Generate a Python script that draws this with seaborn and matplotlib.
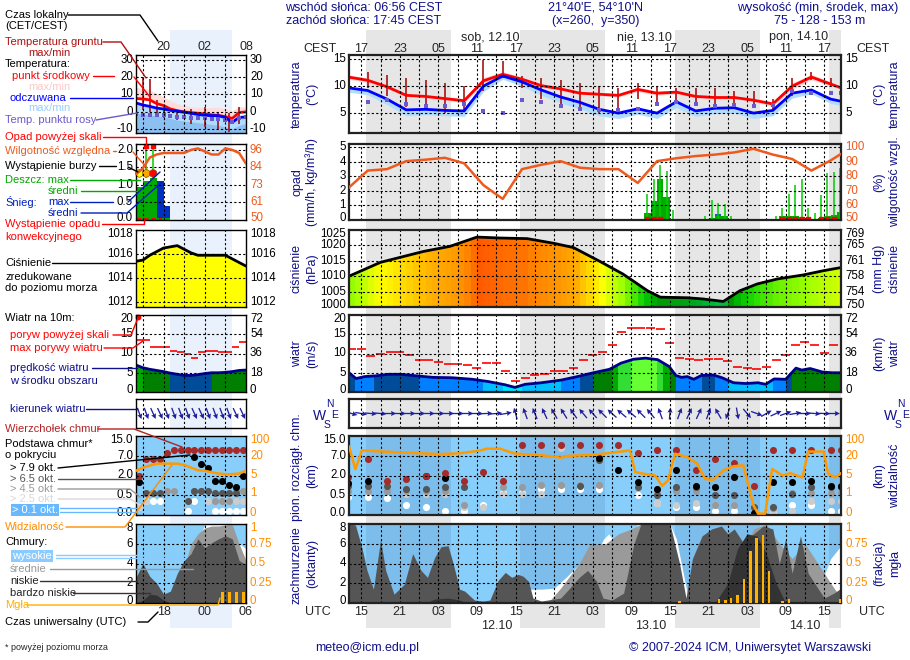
import numpy as np
import matplotlib
matplotlib.use('Agg')
import matplotlib.pyplot as plt
import seaborn as sns
from matplotlib.colors import LinearSegmentedColormap, ListedColormap, BoundaryNorm, Normalize
from matplotlib.lines import Line2D
from matplotlib.transforms import blended_transform_factory

sns.set_style('white')
plt.rcParams['font.family'] = ['Liberation Sans', 'DejaVu Sans']
plt.rcParams['font.size'] = 8.3
plt.rcParams['axes.unicode_minus'] = False

# ---------------- main forecast data (UTC hours from 11.10 00:00) ----------------
t3 = [13, 16, 19, 22, 25, 28, 31, 34, 37, 40, 43, 46, 49, 52, 55, 58, 61, 64, 67, 70,
      73, 76, 79, 82, 85, 88, 89.6]
temp_mid = [11.6, 11.0, 9.8, 8.2, 8.0, 7.6, 7.2, 10.9, 12.1, 11.2, 10.0, 9.4, 8.6, 8.4, 8.2,
            9.3, 8.6, 8.8, 8.0, 7.8, 7.8, 7.3, 6.6, 9.9, 11.6, 10.3, 9.6]
temp_band = [0.4, 0.4, 0.4, 0.3, 0.3, 0.3, 0.4, 0.6, 0.5, 0.4, 0.4, 0.3, 0.3, 0.3, 0.3, 0.4,
             0.4, 0.3, 0.3, 0.3, 0.3, 0.3, 0.4, 0.6, 0.5, 0.4, 0.3]
temp_feel = [9.6, 9.1, 7.5, 5.5, 5.6, 5.4, 5.3, 9.9, 11.8, 10.7, 9.2, 7.9, 6.9, 5.6, 4.9, 5.7,
             4.9, 7.0, 5.3, 5.8, 5.9, 4.9, 5.4, 8.6, 9.2, 7.5, 7.1]
feel_band = [0.8, 0.8, 1.0, 1.1, 1.0, 1.0, 1.0, 1.0, 0.6, 0.8, 1.0, 1.1, 1.2, 1.2, 1.0, 1.0,
             1.0, 1.1, 1.0, 1.0, 1.0, 1.0, 1.0, 0.9, 0.7, 0.8, 0.8]
dew_point = [6.2, 7.0, 7.4, 6.6, 6.3, 6.2, 6.5, 5.3, 5.0, 7.3, 7.0, 6.2, 5.6, 5.4, 5.5, 5.6,
             6.5, 7.0, 6.5, 6.3, 6.4, 6.2, 6.4, 9.0, 8.6, 8.6, 8.6]
ground_max = [13.2, 12.5, 12.0, 11.5, 11.0, 10.5, 10.0, 14.8, 14.5, 11.8, 11.5, 11.0, 10.5,
              10.0, 9.5, 10.5, 10.0, 9.5, 9.5, 9.5, 9.0, 9.0, 7.5, 11.5, 12.5, 11.5, 10.5]
ground_min = [9.5, 9.5, 8.0, 6.0, 5.5, 5.0, 5.5, 9.0, 11.5, 9.5, 7.5, 6.5, 6.0, 5.0, 5.0, 7.5,
              7.0, 7.0, 6.5, 6.5, 6.0, 6.0, 5.5, 8.0, 11.0, 10.0, 9.5]
humidity = [72, 84, 85, 90.5, 91.5, 92.8, 89, 74, 64.5, 85, 88, 90.5, 86, 85, 85, 75.5, 90.5,
            92.5, 94, 95, 96.5, 99, 95, 92, 84, 91, 95.5]

rain_t = [59, 60, 61, 62, 63, 68, 69, 70, 71, 72, 79, 80, 81, 82, 83, 84, 85, 86, 87, 88, 89]
rain_mean = [0.5, 1.3, 2.8, 1.6, 0.1, 0.05, 0.15, 0.3, 0.3, 0.05, 0.1, 0.25, 0.25, 0.25, 0.2,
             0.1, 0.05, 0.15, 0.3, 0.35, 0.55]
rain_max = [1.8, 2.8, 3.8, 3.4, 0.7, 0.3, 1.4, 1.2, 1.1, 0.3, 0.3, 0.8, 1.8, 2.4, 2.8, 0.8,
            0.5, 1.7, 3.2, 3.3, 3.6]
snow_t = [70]
snow_mean = [0.38]
conv_t = [59.5, 60.5, 61.5, 80.5, 81.5, 82.5, 83.5, 84.5, 86.5, 87.5, 88.5]

pres_t = [13.1, 18, 24.6, 28.8, 33, 36.6, 40.8, 44.9, 48, 52.2, 55.7, 59.5, 61.5, 65.7, 68.2,
          71.3, 73.9, 76.6, 79.7, 83.7, 86.9, 89.6]
pressure = [1010, 1014.5, 1018, 1019.7, 1022.7, 1022.4, 1022.2, 1020.7, 1019.3, 1014.7, 1010.7,
            1005.3, 1003.2, 1003, 1002.6, 1001.8, 1005.3, 1007.5, 1009.1, 1010.4, 1011.8, 1012.8]

wind_t = [13.1, 14.2, 15.5, 17.3, 19.2, 21.1, 23.6, 26.1, 29.2, 32.3, 34.8, 37.3, 38.9, 40.5,
          43.0, 46.1, 48.6, 51.1, 53.6, 55.4, 57.3, 59.2, 61.1, 62.9, 63.9, 64.8, 65.7, 66.7,
          67.9, 69.8, 71.1, 72.9, 74.8, 76.7, 77.9, 79.2, 81.0, 82.6, 83.5, 84.8, 86.7, 88.2, 89.6]
wind_speed = [5.0, 3.5, 4.0, 4.2, 4.6, 4.6, 4.2, 3.8, 3.7, 3.3, 2.7, 1.9, 1.2, 2.0, 2.4, 3.1,
              4.0, 5.0, 5.9, 7.5, 8.5, 8.8, 8.4, 6.6, 4.3, 3.8, 4.0, 3.3, 4.3, 4.4, 3.7, 2.4,
              2.2, 2.4, 2.0, 3.4, 3.3, 6.2, 5.7, 6.1, 5.2, 5.0, 5.0]
gust_t = np.arange(13.5, 89.6, 1.5)
gust = [11.2, 11.2, 9.4, 9.8, 10.3, 10.3, 9.6, 8.4, 8.4, 7.9, 7.3, 7.3, 7.0, 6.3, 7.5, 7.5,
        5.5, 2.8, 3.6, 4.4, 4.8, 5.5, 5.5, 6.2, 8.2, 9.7, 10.3, 12.1, 15.6, 16.6, 16.6, 16.7,
        16.3, 12.6, 8.9, 8.7, 8.2, 8.6, 8.6, 8.0, 6.6, 6.3, 6.1, 6.4, 8.2, 9.7, 12.1, 13.0,
        12.2, 10.1, 12.1]
wind_dir = [285, 280, 275, 275, 270, 270, 270, 270, 270, 270, 270, 270, 270, 270, 268, 265,
            260, 165, 160, 158, 155, 150, 148, 145, 140, 138, 135, 132, 130, 130, 135, 140,
            160, 185, 200, 205, 205, 200, 150, 20, 350, 320, 290, 240, 245, 250, 260, 270,
            275, 272, 270]

vis_t = [13.1, 14.1, 15.1, 18, 21, 24.2, 27.3, 30.4, 33.5, 34.5, 36.6, 38.7, 40.8, 42.8, 44.9,
         46, 47, 51, 56.8, 57.6, 58.9, 60.7, 61.8, 62.7, 63.8, 65.7, 67.2, 68.5, 69.7, 71.3,
         72.9, 74.4, 76, 76.7, 77.8, 78.9, 80.5, 81.7, 83.6, 84.5, 86.9, 87.6, 88.7, 89.6]
visibility = [58, 9.7, 41.6, 37.6, 33.6, 30.4, 26.4, 30.4, 41, 48.6, 48.6, 30, 24.8, 22.4, 19.4,
              18.5, 19.9, 23, 41.6, 7.6, 6.3, 5, 2.9, 4, 28, 19, 14, 4.3, 4.1, 8.9, 12, 12.8,
              0.48, 0.07, 0.07, 10, 5, 6.8, 4.6, 37, 37, 6.3, 4.6, 6.8]
nan = np.nan
cloud_top = [1.9, 6.3, 1.6, 1.7, 2.0, 2.6, 1.6, 2.9, 1.56, 11.2, 11.2, 11.2, 11.2, 11.2, 11.2,
             8.0, 9.4, 9.4, 3.4, 6.3, 5.2, 1.2, 9.4, 9.4, 9.4, 9.4, 9.4]
base_79 = [1.4, 1.6, nan, nan, 2.0, 1.8, nan, nan, nan, nan, nan, nan, nan, 6.5, 3.3, 1.5, 1.0,
           3.3, 1.2, 1.1, 1.9, 0.04, 1.5, 1.5, 1.6, 1.2, 1.2]
base_65 = [1.2, 1.2, 1.2, 0.95, 0.95, 1.1, 1.1, nan, nan, nan, nan, nan, 1.2, 6.0, nan, 1.1,
           0.5, 1.1, 1.1, 0.5, 0.5, 0.2, 0.2, 0.6, 1.1, 1.1, 1.1]
base_45 = [0.8, 0.8, 0.8, 0.8, 0.8, 0.8, 0.26, nan, 1.1, 1.1, 1.3, 1.3, 1.3, 1.3, nan, nan,
           0.8, 0.8, 0.8, 0.26, 0.26, 0.17, 0.17, 0.65, 0.65, 0.65, 0.65]
base_25 = [0.9, 1.1, 1.3, 0.6, 0.6, 0.6, 0.2, 0.2, 0.6, 0.6, 0.6, 10.0, 1.3, 6.5, nan, nan,
           0.3, 0.26, 0.3, 0.26, 0.26, 0.1, 0.1, 0.1, 0.35, 0.35, 0.35]
base_01 = [0.45, 0.45, 0.43, 0.26, 0.19, 0.1, 0.1, 0.26, 0.7, 0.7, 0.95, 0.95, 0.95, 0.95, nan,
           0.55, 0.3, 0.2, 0.2, 0.09, 0.09, 0.07, 0.07, 0.26, 0.26, 0.1, 0.1]

high_t = [13.1, 38.5, 39.4, 43, 45, 47, 49, 51.6, 52.7, 53.5, 54.5, 56, 58, 63, 64, 66, 85,
          86.5, 88, 89.6]
cloud_high = [0, 0, 1.4, 1.4, 1.5, 2.7, 4.0, 5.0, 6.5, 7, 6.0, 5.5, 8, 8, 6.5, 0, 0, 2, 4.5, 5.8]
mid_t = [13.1, 44, 46, 48.9, 50.5, 53, 55, 57, 58.5, 63, 64, 65.5, 70, 73, 76, 78, 80, 82, 84,
         86, 88, 89.6]
cloud_mid = [0, 0, 1.5, 4.0, 5.9, 6.0, 7.0, 7.5, 8, 8, 3, 0, 0, 3, 7.5, 8, 6.0, 4.5, 6.0, 4.0,
             2.0, 0.5]
low_t = [13.1, 14.1, 15.1, 15.9, 16.9, 18, 18.8, 20.1, 21.7, 23, 24.3, 25.3, 26.4, 27.4, 28.5,
         29.3, 30.3, 31.1, 32.6, 33.9, 35, 36.3, 37.4, 38.4, 39.4, 40.2, 41, 41.7, 43, 46, 47,
         48.9, 50.2, 51.6, 52.6, 54, 55.8, 57.4, 58.5, 63, 64.5, 65.5, 66.5, 68, 69.5, 71, 72,
         73, 74.5, 76, 77.5, 79, 80, 81, 82, 83.3, 84.5, 86, 87, 88.5, 89.6]
cloud_low = [8, 7.9, 5.6, 3.3, 1.4, 6.4, 3.3, 0.9, 1.9, 5.0, 3.3, 2.6, 4.6, 5.7, 5.8, 4.0, 1.4,
             1.2, 0.3, 0.2, 0.3, 2.3, 3.1, 2.6, 2.9, 2.7, 2.2, 0.5, 0.2, 0.5, 1.2, 2.6, 3.3, 2.2,
             0.5, 0.3, 1.0, 6.0, 8, 8, 4, 0.5, 4.5, 6.8, 7.5, 7.8, 7.0, 7.5, 6.0, 7.0, 7.8, 7.5,
             4.0, 6.5, 3.0, 6.8, 3.0, 1.5, 0.5, 1.0, 1.5]
vlow_t = [13.1, 25, 26.4, 28.5, 30.3, 31.5, 70, 72, 73.5, 75, 76.5, 78, 79.5, 81, 89.6]
cloud_vlow = [0, 0, 0.4, 0.5, 0.3, 0, 0, 2.0, 5.5, 7.0, 6.8, 5.0, 2.0, 0, 0]
fog_t = [64.5, 70.6, 71.6, 72.5, 73.5, 74.5, 75.5, 76.5, 77.5, 78.4, 80.5, 81.5, 89.5]
fog = [0.02, 0.05, 0.04, 0.06, 0.1, 0.3, 0.66, 0.82, 0.86, 0.4, 0.03, 0.05, 0.05]

# ---------------- legend example data (UTC hours, 14 -> 06) ----------------
s_t = [14, 15, 16, 17, 18, 19, 20, 21, 22, 23, 24, 25, 26, 27, 28, 29, 30]
s_temp = [7.6, 7.3, 6.8, 4.6, 3.5, 1.5, 0.5, -0.2, -0.6, -1.0, -1.4, -1.9, -2.3, -3.0, -4.0,
          -0.6, -0.2]
s_temp_hi = [14, 13.5, 12.8, 10.5, 8.5, 6.5, 4.6, 3.5, 2.7, 2.5, 2.3, 2.3, 2.5, 1.5, 0.5, 2.7, 2.7]
s_feel = [5.0, 3.8, 3.0, 2.0, 1.5, 0.7, 0.2, -0.4, -1.0, -1.7, -2.2, -2.4, -2.4, -3.5, -6.3,
          -3.4, -3.2]
s_feel_lo = [-1, -1.5, -2, -2.5, -3, -4, -5, -5.5, -6, -6.5, -7, -7.5, -8, -9, -10, -8, -7]
s_dew = [-1.6, -2.0, -2.2, -2.2, -2.2, -2.5, -3.0, -3.4, -3.6, -3.6, -3.8, -4.2, -4.6, -5.0,
         -6.0, -3.5, -3.0]
s_ground_t = [15, 16, 17, 18, 20, 22, 24, 26, 27.5, 29]
s_ground_max = [20, 18.7, 6.6, 2.7, -1.0, 1.5, 2.5, -0.5, -1.0, 2.5]
s_ground_min = [0.7, 0.0, -2.2, -4.0, -5.0, -7.0, -9.0, -10.0, -12.0, -7.0]
s_rain_t = [14, 15, 16, 17, 18]
s_rain = [0.95, 1.1, 1.2, 0.05, 0.05]
s_snow_t = [17, 18]
s_snow = [1.1, 0.4]
s_storm_t = [14.5, 15.5, 16.5]
s_storm_col = ['#FFFF00', '#FFA500', '#FF0000']
s_humidity = [80, 84, 91, 93, 94, 94, 94, 94, 96, 97, 95, 93, 93, 97, 96, 94, 87]
s_pres = [1015.4, 1015.5, 1015.9, 1016.2, 1016.5, 1016.6, 1016.7, 1016.4, 1016.1, 1015.9,
          1015.9, 1015.9, 1015.9, 1015.9, 1015.6, 1015.3, 1015.0]
s_wind = [7.0, 6.3, 5.9, 5.6, 5.3, 4.9, 4.6, 4.3, 4.3, 4.5, 4.8, 5.0, 5.0, 5.1, 5.3, 5.6, 5.7]
s_h = [14.5, 15.5, 16.5, 17.5, 18.5, 19.5, 20.5, 21.5, 22.5, 23.5, 24.5, 25.5, 26.5, 27.5,
       28.5, 29.5]
s_gust = [13.5, 13.5, 11.6, 11.6, 11.6, 10.6, 10.4, 9.8, 8.9, 10.4, 10.6, 10.6, 10.4, 10.4,
          11.6, 12.9]
s_dir = [340, 340, 335, 335, 340, 340, 340, 340, 335, 335, 340, 340, 340, 340, 335, 335]
s_top = [2.0, 6.1, 6.1, 6.1, 8.2, 9.2, 9.2, 9.2, 9.2, 9.2, 9.2, 9.2, 9.2, 9.2, 9.2, 9.2]
s_b79 = [1.5, nan, nan, nan, nan, nan, nan, nan, 6.7, 4.9, 4.0, 1.55, 1.55, 1.3, 1.1, 2.0]
s_b65 = [nan, 0.7, 0.7, 0.7, nan, nan, nan, 0.36, 0.8, 0.8, 0.8, 0.7, 0.7, 0.7, 0.7, nan]
s_b45 = [nan, nan, nan, nan, 0.8, 0.8, nan, nan, 0.8, 0.8, nan, 0.36, 0.36, 0.36, 0.8, 0.8]
s_b25 = [0.21, 0.36, nan, nan, nan, nan, nan, 0.36, nan, nan, 0.36, nan, 0.36, 0.36, 0.36, 0.36]
s_b01 = [0.21, 0.36, 0.36, 0.36, nan, nan, nan, 0.11, 0.36, nan, nan, 0.11, 0.11, 0.11, 0.11, 0.11]
s_vis = [8.6, 11, 12.5, 14, 14, 14, 14, 13, 11, 9, 8.6, 7.5, 6.5, 6.0, 6.0, 6.5, 8.6]
s_high = [0, 0, 0, 0, 0, 0.5, 2.2, 3.6, 4.0, 6.5, 7.9, 8, 8, 8, 7.0, 6.0, 5.5]
s_mid = [0, 0, 0, 0, 0, 0.5, 1.5, 3.5, 6.0, 7.0, 7.6, 7.8, 7.8, 7.9, 7.9, 6.0, 4.3]
s_low = [2.6, 4.0, 2.7, 2.0, 0.9, 1.2, 3.0, 4.3, 5.0, 6.5, 5.6, 6.1, 6.5, 6.8, 6.5, 4.3, 3.9]
s_vlow = [0, 0.3, 0.9, 0.8, 0.3, 0, 0, 0, 0, 0, 0, 0, 0, 0, 0, 0, 0]
s_fog_t = [26.6, 27.6, 28.6, 29.6]
s_fog = [0.14, 0.14, 0.14, 0.14]

# ---------------- layout ----------------
W, H = 910, 660
MX0, MX1 = 349, 841
SX0, SX1 = 136, 246
T0, T1 = 13.1, 89.6
S0, S1 = 14, 30
ROW = {'temp': (55, 133), 'rain': (144, 220), 'pres': (230, 307), 'wind': (315, 392),
       'dir': (399, 428), 'base': (436, 515), 'cover': (524, 603)}
NIGHTS = [(15.75, 28.93), (39.75, 52.93), (63.75, 76.93), (87.75, 90)]
NAVY = '#10108C'
DARKRED = '#B01010'
ORANGE = '#FF8C00'
RHCOL = '#EE5A1E'
GRID_X = np.arange(15, 89, 3)
S_GRID_X = [15, 18, 21, 24, 27]

KM = [0, 0.5, 2, 7, 15]
VIS = [0, 1, 5, 20, 100]
LEV = [0, 1, 2, 3, 4]
km_scale = (lambda v: np.interp(v, KM, LEV), lambda v: np.interp(v, LEV, KM))
vis_scale = (lambda v: np.interp(v, VIS, LEV), lambda v: np.interp(v, LEV, VIS))

fig = plt.figure(figsize=(W / 100, H / 100), dpi=100)


def box(x0, y0, x1, y1):
    return [x0 / W, 1 - y1 / H, (x1 - x0) / W, (y1 - y0) / H]


def ftext(x, y, s, **kw):
    kw.setdefault('va', 'center')
    kw.setdefault('ha', 'left')
    return fig.text(x / W, 1 - y / H, s, **kw)


def fline(pts, color, lw=1.0):
    fig.add_artist(Line2D([p[0] / W for p in pts], [1 - p[1] / H for p in pts],
                          color=color, lw=lw, transform=fig.transFigure))


def ylab(ax, ticks, labels, side='left', color='black'):
    # tick labels; a label on the top frame is pulled inside, a bottom one nudged up
    ylo, yhi = ax.get_ylim()
    tol = 0.02 * (yhi - ylo)
    for t, s in zip(ticks, labels):
        va, dy = 'center', 0
        if abs(t - yhi) <= tol:
            va, dy = 'top', 2
        elif abs(t - ylo) <= tol:
            dy = 2
        x, dx, ha = (0, -3, 'right') if side == 'left' else (1, 4, 'left')
        ax.annotate(s, xy=(x, t), xycoords=ax.get_yaxis_transform(), xytext=(dx, dy),
                    textcoords='offset pixels', ha=ha, va=va, color=color, fontsize=8.3,
                    annotation_clip=False)


def panel(x0, x1, row, xlim, ylim, face='none', lw=1.6, ec='#222222', scale=None):
    y0, y1 = ROW[row]
    ax = fig.add_axes(box(x0, y0, x1, y1))
    ax.set_facecolor(face)
    if scale:
        ax.set_yscale('function', functions=scale)
    ax.set_xlim(xlim)
    ax.set_ylim(ylim)
    ax.set_xticks([])
    ax.set_yticks([])
    ax.minorticks_off()
    for sp in ax.spines.values():
        sp.set_color(ec)
        sp.set_linewidth(lw)
        sp.set_zorder(30)
    return ax


def twin(ax, ylim, scale=None):
    tw = ax.twinx()
    if scale:
        tw.set_yscale('function', functions=scale)
    tw.set_ylim(ylim)
    tw.set_yticks([])
    tw.minorticks_off()
    for sp in tw.spines.values():
        sp.set_visible(False)
    return tw


def grid(ax, xs, ys):
    for x in xs:
        ax.axvline(x, color='black', lw=0.8, ls=(0, (2, 2)), zorder=25)
    for y in ys:
        ax.axhline(y, color='black', lw=0.8, ls=(0, (2, 2)), zorder=25)


def stripes(ax, x, y, base, cmap, norm, edges):
    poly = ax.fill_between(x, base, y, color='none', lw=0)
    edges = np.asarray(edges, dtype=float)
    centers = (edges[:-1] + edges[1:]) / 2
    img = cmap(norm(np.interp(centers, x, y)))[np.newaxis, :, :]
    xl, yl = ax.get_xlim(), ax.get_ylim()
    im = ax.imshow(img, extent=[edges[0], edges[-1], yl[0], yl[1]], aspect='auto',
                   interpolation='nearest', zorder=1)
    im.set_clip_path(poly.get_paths()[0], transform=ax.transData)
    ax.set_xlim(xl)
    ax.set_ylim(yl)


def line(ax, x, y, color, lw):
    sns.lineplot(x=list(x), y=list(y), ax=ax, color=color, lw=lw, zorder=6)
    ax.set_xlabel('')
    ax.set_ylabel('')


def dots(ax, x, y, color, s=26, marker='o'):
    sns.scatterplot(x=list(x), y=list(y), ax=ax, color=color, s=s, marker=marker,
                    linewidth=0, zorder=7)
    ax.set_xlabel('')
    ax.set_ylabel('')


def arrows(ax, x, deg, width):
    d = np.deg2rad(deg)
    ax.quiver(x, np.zeros(len(x)), -np.sin(d), -np.cos(d), angles='uv', units='dots',
              scale_units='dots', scale=1 / 12, width=width, headwidth=4, headlength=4,
              headaxislength=3.5, pivot='middle', color='#1F1F9F', zorder=6)


pres_cmap = LinearSegmentedColormap.from_list('pres', [
    (0.0, '#00aa44'), (0.06, '#00cc55'), (0.11, '#00aa22'), (0.13, '#009900'),
    (0.2, '#00bb00'), (0.28, '#22dd00'), (0.36, '#66f000'), (0.42, '#99ff00'),
    (0.5, '#ccff00'), (0.58, '#ffff00'), (0.68, '#ffd000'), (0.76, '#ffaa00'),
    (0.84, '#ff9000'), (0.88, '#ff8000'), (0.91, '#ff5a00'), (1.0, '#ff3300')])
pres_norm = Normalize(1000, 1025)
wind_cmap = ListedColormap(['#00E5FF', '#00BFFF', '#0080FF', '#004C99', '#007F00',
                            '#00AA00', '#33DD33', '#66FF33'])
wind_norm = BoundaryNorm([0, 2, 3, 4.2, 5.0, 6.5, 7.5, 8.3, 40], 8)

# ---------------- backgrounds ----------------
bg = fig.add_axes(box(MX0, 30, MX1, 628), zorder=-5)
bg.set_xlim(T0, T1)
bg.set_ylim(0, 1)
bg.axis('off')
for a, b in NIGHTS:
    bg.axvspan(a, b, color='#E6E6E6', lw=0)
sbg = fig.add_axes(box(SX0, 30, SX1, 628), zorder=-5)
sbg.set_xlim(S0, S1)
sbg.set_ylim(0, 1)
sbg.axis('off')
sbg.axvspan(18.95, 27.96, color='#E9F1FD', lw=0)

# ---------------- main panels ----------------
t3a = np.array(t3)
ax = panel(MX0, MX1, 'temp', (T0, T1), (1.2, 15.7))
ylab(ax, [5, 10, 15], ['5', '10', '15'])
ylab(ax, [5, 10, 15], ['5', '10', '15'], side='right')
ax.fill_between(t3a, np.array(temp_feel) - np.array(feel_band), temp_feel, color='#B0DCFF', lw=0)
ax.fill_between(t3a, np.array(temp_mid) - np.array(temp_band), np.array(temp_mid) + np.array(temp_band),
                color='#FFCFCF', lw=0)
ax.vlines(t3a, ground_min, ground_max, color='#A00000', lw=1.1, zorder=4)
dots(ax, t3a, dew_point, '#6A5ACD', s=12, marker='s')
line(ax, t3a, temp_mid, '#FF0000', 2.0)
line(ax, t3a, temp_feel, '#0000FF', 2.0)
ax.set_xlim(T0, T1)
ax.set_ylim(1.2, 15.7)
grid(ax, GRID_X, [5, 10, 15])

ax = panel(MX0, MX1, 'rain', (T0, T1), (0, 5.23))
ylab(ax, [0, 1, 2, 3, 4, 5], ['0', '1', '2', '3', '4', '5'])
tw = twin(ax, (50, 102.3))
ylab(tw, [50, 60, 70, 80, 90, 100], ['50', '60', '70', '80', '90', '100'], side='right', color=RHCOL)
ax.bar(snow_t, snow_mean, width=1.0, align='edge', color='#2050D0', lw=0, zorder=3)
ax.bar(rain_t, rain_mean, width=1.0, align='edge', color='#00AA00', lw=0, zorder=3)
ax.vlines(np.array(rain_t) + 0.5, 0, rain_max, color='#00CC00', lw=1.1, zorder=3)
ax.scatter(conv_t, np.full(len(conv_t), 0.05), marker='s', color='#FF0000', s=7, zorder=5)
grid(ax, GRID_X, [1, 2, 3, 4, 5])
line(tw, t3a, humidity, RHCOL, 1.8)
tw.set_ylim(50, 102.3)

ax = panel(MX0, MX1, 'pres', (T0, T1), (1000, 1025))
ylab(ax, [1000, 1005, 1010, 1015, 1020, 1025], ['1000', '1005', '1010', '1015', '1020', '1025'])
ylab(ax, [1000, 1005, 1010, 1015, 1020, 1025], ['750', '754', '758', '761', '765', '769'], side='right')
stripes(ax, pres_t, pressure, 1000, pres_cmap, pres_norm, np.arange(13, 91))
line(ax, pres_t, pressure, 'black', 2.0)
ax.set_xlim(T0, T1)
ax.set_ylim(1000, 1025)
grid(ax, GRID_X, [1005, 1010, 1015, 1020])

ax = panel(MX0, MX1, 'wind', (T0, T1), (0, 20))
ylab(ax, [0, 5, 10, 15, 20], ['0', '5', '10', '15', '20'])
ylab(ax, [0, 5, 10, 15, 20], ['0', '18', '36', '54', '72'], side='right')
stripes(ax, wind_t, wind_speed, 0, wind_cmap, wind_norm, np.arange(13, 91))
line(ax, wind_t, wind_speed, '#00008B', 2.0)
ax.hlines(gust, gust_t - 0.7, gust_t + 0.7, color='#FF0000', lw=1.2, zorder=6)
ax.set_xlim(T0, T1)
ax.set_ylim(0, 20)
grid(ax, GRID_X, [5, 10, 15])

ax = panel(MX0, MX1, 'dir', (T0, T1), (-1, 1))
arrows(ax, gust_t, wind_dir, 1.3)
grid(ax, GRID_X, [])

ax = panel(MX0, MX1, 'base', (T0, T1), (0, 15), face='#87CEFA', scale=km_scale)
ylab(ax, KM, ['0.0', '0.5', '2.0', '7.0', '15.0'])
for a, b in NIGHTS:
    ax.axvspan(a, b, color='#7DBDEB', lw=0, zorder=0)
tw = twin(ax, (0, 100), scale=vis_scale)
ylab(tw, VIS, ['0', '1', '5', '20', '100'], side='right', color=ORANGE)
dots(ax, t3a, base_01, '#FFFFFF')
dots(ax, t3a, base_25, '#CCCCCC')
dots(ax, t3a, base_45, '#999999')
dots(ax, t3a, base_65, '#555555')
dots(ax, t3a, base_79, '#000000')
dots(ax, t3a, cloud_top, '#A52A2A')
ax.set_xlim(T0, T1)
ax.set_ylim(0, 15)
grid(ax, GRID_X, [0.5, 2, 7])
line(tw, vis_t, visibility, '#FF9900', 1.8)
tw.set_ylim(0, 100)

ax = panel(MX0, MX1, 'cover', (T0, T1), (0, 8), face='#87CEFA')
ylab(ax, [0, 2, 4, 6, 8], ['0', '2', '4', '6', '8'])
for a, b in NIGHTS:
    ax.axvspan(a, b, color='#7DBDEB', lw=0, zorder=0)
ax.fill_between(high_t, 0, cloud_high, color='white', lw=0, zorder=2)
ax.fill_between(mid_t, 0, cloud_mid, color='#9A9A9A', lw=0, zorder=2)
ax.fill_between(low_t, 0, cloud_low, color='#555555', lw=0, zorder=2)
ax.fill_between(vlow_t, 0, cloud_vlow, color='#333333', lw=0, zorder=2)
grid(ax, GRID_X, [2, 4, 6])
tw = twin(ax, (0, 1))
ylab(tw, [0, 0.25, 0.5, 0.75, 1], ['0', '0.25', '0.5', '0.75', '1'], side='right', color=ORANGE)
tw.bar(fog_t, fog, width=0.4, color='#FFB000', lw=0)
tw.set_ylim(0, 1)

# ---------------- legend example panels ----------------
s_ta = np.array(s_t)
ax = panel(SX0, SX1, 'temp', (S0, S1), (-12.5, 32.9), lw=1.0, ec='black')
ylab(ax, [-10, 0, 10, 20, 30], ['-10', '0', '10', '20', '30'])
ylab(ax, [-10, 0, 10, 20, 30], ['-10', '0', '10', '20', '30'], side='right')
ax.fill_between(s_ta, -12.5, s_feel, color='#B0DCFF', lw=0)
ax.fill_between(s_ta, -12.5, s_feel_lo, color='#8CC0F0', lw=0)
ax.fill_between(s_ta, s_temp, s_temp_hi, color='#FFDCDC', lw=0)
ax.vlines(s_ground_t, s_ground_min, s_ground_max, color='#A00000', lw=1.1, zorder=4)
dots(ax, s_ta, s_dew, '#6A5ACD', s=12, marker='s')
line(ax, s_ta, s_temp, '#FF0000', 2.0)
line(ax, s_ta, s_feel, '#0000FF', 2.0)
ax.set_xlim(S0, S1)
ax.set_ylim(-12.5, 32.9)
grid(ax, S_GRID_X, [-10, 0, 10, 20, 30])

ax = panel(SX0, SX1, 'rain', (S0, S1), (0, 2.17), lw=1.0, ec='black')
ylab(ax, [0, 0.5, 1, 1.5, 2], ['0.0', '0.5', '1.0', '1.5', '2.0'])
tw = twin(ax, (50, 99.9))
ylab(tw, [50, 61.5, 73, 84.5, 96], ['50', '61', '73', '84', '96'], side='right', color=RHCOL)
ax.bar(s_snow_t, s_snow, width=1.0, align='edge', color='#0030C0', lw=0, zorder=3)
ax.bar(s_rain_t, s_rain, width=1.0, align='edge', color='#00AA00', lw=0, zorder=3)
ax.vlines([15.5, 16.5], 1.2, 2.05, color='#00CC00', lw=1.1, zorder=3)
ax.scatter(s_storm_t, [1.33, 1.33, 1.33], c=s_storm_col, s=30, edgecolors='#806000',
           linewidths=0.5, zorder=6, clip_on=False)
ax.scatter([15.5, 16.5], [2.12, 2.12], marker='s', color='#FF0000', s=10, zorder=6, clip_on=False)
ax.hlines(0.03, 14.2, 17.8, color='#FF0000', lw=1.5, ls=(0, (2, 1.5)), zorder=6)
grid(ax, S_GRID_X, [0.5, 1, 1.5, 2])
line(tw, s_ta, s_humidity, RHCOL, 1.8)
tw.set_ylim(50, 99.9)

ax = panel(SX0, SX1, 'pres', (S0, S1), (1011.6, 1018), lw=1.0, ec='black')
ylab(ax, [1012, 1014, 1016, 1018], ['1012', '1014', '1016', '1018'])
ylab(ax, [1012, 1014, 1016, 1018], ['1012', '1014', '1016', '1018'], side='right')
ax.fill_between(s_ta, 1011.6, s_pres, color='#FFFF00', lw=0, zorder=1)
line(ax, s_ta, s_pres, 'black', 2.0)
ax.set_xlim(S0, S1)
ax.set_ylim(1011.6, 1018)
grid(ax, S_GRID_X, [1012, 1014, 1016])

ax = panel(SX0, SX1, 'wind', (S0, S1), (0, 20), lw=1.0, ec='black')
ylab(ax, [0, 5, 10, 15, 20], ['0', '5', '10', '15', '20'])
ylab(ax, [0, 5, 10, 15, 20], ['0', '18', '36', '54', '72'], side='right')
stripes(ax, s_ta, s_wind, 0, wind_cmap, wind_norm, np.arange(14, 31))
line(ax, s_ta, s_wind, '#00008B', 2.0)
ax.hlines(s_gust, np.array(s_h) - 0.5, np.array(s_h) + 0.5, color='#FF0000', lw=1.2, zorder=6)
ax.scatter([14.3], [19.6], color='#FF0000', s=10, zorder=6, clip_on=False)
ax.set_xlim(S0, S1)
ax.set_ylim(0, 20)
grid(ax, S_GRID_X, [5, 10, 15])

ax = panel(SX0, SX1, 'dir', (S0, S1), (-1, 1), lw=1.0, ec='black')
arrows(ax, s_h, s_dir, 1.3)
grid(ax, S_GRID_X, [])

ax = panel(SX0, SX1, 'base', (S0, S1), (0, 15), face='#87CEFA', lw=1.0, ec='black', scale=km_scale)
ylab(ax, KM, ['0.0', '0.5', '2.0', '7.0', '15.0'])
tw = twin(ax, (0, 100), scale=vis_scale)
ylab(tw, VIS, ['0', '1', '5', '20', '100'], side='right', color=ORANGE)
dots(ax, s_h, s_b01, '#FFFFFF')
dots(ax, s_h, s_b25, '#CCCCCC')
dots(ax, s_h, s_b45, '#999999')
dots(ax, s_h, s_b65, '#555555')
dots(ax, s_h, s_b79, '#000000')
dots(ax, s_h, s_top, '#A52A2A')
ax.set_xlim(S0, S1)
ax.set_ylim(0, 15)
grid(ax, S_GRID_X, [0.5, 2, 7])
line(tw, s_ta, s_vis, '#FF9900', 1.8)
tw.set_ylim(0, 100)

ax = panel(SX0, SX1, 'cover', (S0, S1), (0, 8), face='#87CEFA', lw=1.0, ec='black')
ylab(ax, [0, 2, 4, 6, 8], ['0', '2', '4', '6', '8'])
ax.fill_between(s_ta, 0, s_high, color='white', lw=0, zorder=2)
ax.fill_between(s_ta, 0, s_mid, color='#9A9A9A', lw=0, zorder=2)
ax.fill_between(s_ta, 0, s_low, color='#555555', lw=0, zorder=2)
ax.fill_between(s_ta, 0, s_vlow, color='#333333', lw=0, zorder=2)
grid(ax, S_GRID_X, [2, 4, 6])
tw = twin(ax, (0, 1))
ylab(tw, [0, 0.25, 0.5, 0.75, 1], ['0', '0.25', '0.5', '0.75', '1'], side='right', color=ORANGE)
tw.bar(s_fog_t, s_fog, width=0.4, color='#FFB000', lw=0)
tw.set_ylim(0, 1)

# ---------------- time labels ----------------
tr = blended_transform_factory(bg.transData, fig.transFigure)
for t in range(15, 89, 6):
    bg.text(t, 1 - 49 / H, f'{(t + 2) % 24:02d}', transform=tr, ha='center', va='center', fontsize=9)
    bg.text(t, 1 - 612 / H, f'{t % 24:02d}', transform=tr, ha='center', va='center', fontsize=9)
for t, lab in [(35, 'sob, 12.10'), (59, 'nie, 13.10'), (83, 'pon, 14.10')]:
    bg.text(t, 1 - 37 / H, lab, transform=tr, ha='center', va='center', fontsize=9)
for t, lab in [(36, '12.10'), (60, '13.10'), (84, '14.10')]:
    bg.text(t, 1 - 626 / H, lab, transform=tr, ha='center', va='center', fontsize=9)
str_ = blended_transform_factory(sbg.transData, fig.transFigure)
for t, top, bot in [(18, '20', '18'), (24, '02', '00'), (30, '08', '06')]:
    sbg.text(t, 1 - 47 / H, top, transform=str_, ha='center', va='center', fontsize=9)
    sbg.text(t, 1 - 612 / H, bot, transform=str_, ha='center', va='center', fontsize=9)
ftext(320, 49, 'CEST', ha='center', fontsize=9)
ftext(873, 49, 'CEST', ha='center', fontsize=9)
ftext(318, 612, 'UTC', ha='center', fontsize=9)
ftext(872, 612, 'UTC', ha='center', fontsize=9)

# ---------------- header / footer ----------------
ftext(364, 8, 'wschód słońca: 06:56 CEST', ha='center', color=NAVY, fontsize=9)
ftext(364, 21, 'zachód słońca: 17:45 CEST', ha='center', color=NAVY, fontsize=9)
ftext(596, 8, "21°40'E, 54°10'N", ha='center', color=NAVY, fontsize=9)
ftext(596, 21, '(x=260,  y=350)', ha='center', color=NAVY, fontsize=9)
ftext(818, 8, 'wysokość (min, środek, max)', ha='center', color=NAVY, fontsize=9)
ftext(820, 21, '75 - 128 - 153 m', ha='center', color=NAVY, fontsize=9)
ftext(367, 648, 'meteo@icm.edu.pl', ha='center', color=NAVY, fontsize=9)
ftext(750, 648, '© 2007-2024 ICM, Uniwersytet Warszawski', ha='center', color=NAVY, fontsize=9)
ftext(5, 648, '* powyżej poziomu morza', fontsize=6.5)

# axis titles: (row, left line 1, left line 2, y of line 1, right line 1, right line 2)
side = [
    ('temp', 'temperatura', '(°C)', None, '(°C)', 'temperatura'),
    ('rain', 'opad', '(mm/h, kg/m³/h)', None, '(%)', 'wilgotność wzgl.'),
    ('pres', 'ciśnienie', '(hPa)', None, '(mm Hg)', 'ciśnienie'),
    ('wind', 'wiatr', '(m/s)', None, '(km/h)', 'wiatr'),
    ('base', 'pion. rozciągł. chm.', '(km)', 467, '(km)', 'widzialność'),
    ('cover', 'zachmurzenie', '(oktanty)', 565, '(frakcja)', 'mgła'),
]
for row, l1, l2, y1, r1, r2 in side:
    yc = sum(ROW[row]) / 2
    kw = dict(rotation=90, ha='center', color=NAVY, fontsize=9)
    ftext(297, y1 if y1 else yc, l1, **kw)
    ftext(312, yc, l2, **kw)
    ftext(879, yc, r1, **kw)
    ftext(895, yc, r2, **kw)
for x0 in (313, 884):
    ftext(x0, 416, 'W', color=NAVY, fontsize=10)
    ftext(x0 + 13, 404, 'N', color=NAVY, fontsize=7.5)
    ftext(x0 + 11, 425, 'S', color=NAVY, fontsize=7.5)
    ftext(x0 + 18, 415, 'E', color=NAVY, fontsize=7.5)

# ---------------- legend labels ----------------
legend_txt = [
    (5, 15, 'Czas lokalny', 'black'), (5, 26, '(CET/CEST)', 'black'),
    (5, 42, 'Temperatura gruntu', DARKRED), (28, 53, 'max/min', DARKRED),
    (5, 64, 'Temperatura:', 'black'), (12, 76, 'punkt środkowy', '#FF0000'),
    (28, 87, 'max/min', '#FFC8C8'), (10, 98, 'odczuwana', '#0000FF'),
    (28, 108, 'max/min', '#99CCFF'), (5, 120, 'Temp. punktu rosy', '#6A5ACD'),
    (5, 137, 'Opad powyżej skali', '#FF0000'), (5, 151, 'Wilgotność względna', RHCOL),
    (5, 166, 'Wystąpienie burzy', 'black'), (5, 180, 'Deszcz: max', '#00AA00'),
    (48, 191, 'średni', '#00AA00'), (5, 202, 'Śnieg:', '#0020C0'), (48, 202, 'max', '#0020C0'),
    (48, 213, 'średni', '#0020C0'), (5, 224, 'Wystąpienie opadu', '#FF0000'),
    (5, 237, 'konwekcyjnego', '#FF0000'),
    (5, 263, 'Ciśnienie', 'black'), (5, 277, 'zredukowane', 'black'),
    (5, 288, 'do poziomu morza', 'black'),
    (5, 318, 'Wiatr na 10m:', 'black'), (10, 335, 'poryw powyżej skali', '#FF0000'),
    (10, 348, 'max porywy wiatru', '#FF0000'), (10, 368, 'prędkość wiatru', NAVY),
    (10, 381, 'w środku obszaru', NAVY), (10, 409, 'kierunek wiatru', NAVY),
    (5, 429, 'Wierzchołek chmur', '#B22222'), (5, 444, 'Podstawa chmur*', 'black'),
    (5, 455, 'o pokryciu', 'black'), (10, 468, '> 7.9 okt.', 'black'),
    (10, 479, '> 6.5 okt.', '#555555'), (10, 489, '> 4.5 okt.', '#999999'),
    (10, 499, '> 2.5 okt.', '#D8D8D8'),
    (5, 527, 'Widzialność', ORANGE), (5, 542, 'Chmury:', 'black'),
    (10, 569, 'średnie', '#999999'), (10, 581, 'niskie', '#222222'),
    (10, 593, 'bardzo niskie', '#222222'), (5, 605, 'Mgła', '#FFB000'),
    (5, 622, 'Czas uniwersalny (UTC)', 'black'),
]
for x, y, s, c in legend_txt:
    ftext(x, y, s, color=c, fontsize=8)
ftext(12, 510, '> 0.1 okt.', color='white', fontsize=8,
      bbox=dict(boxstyle='square,pad=0.1', fc='#66B8FF', ec='none'))
ftext(12, 556, 'wysokie', color='white', fontsize=8,
      bbox=dict(boxstyle='square,pad=0.1', fc='#8CCBFF', ec='none'))

connectors = [
    ([(68, 15), (140, 15), (158, 41)], 'black'),
    ([(103, 42), (121, 42), (146, 78)], DARKRED),
    ([(93, 76), (114, 76)], '#FF0000'), ([(134, 77), (150, 97)], '#FF0000'),
    ([(70, 98), (133, 98)], '#0000FF'),
    ([(96, 120), (137, 113)], '#6A5ACD'),
    ([(103, 137), (146, 137), (146, 146)], '#FF0000'),
    ([(113, 151), (116, 151)], RHCOL), ([(133, 152), (147, 168)], RHCOL),
    ([(99, 166), (116, 166)], 'black'), ([(128, 167), (138, 172)], 'black'),
    ([(70, 180), (140, 180)], '#00AA00'),
    ([(81, 191), (143, 191)], '#00AA00'),
    ([(70, 202), (113, 202)], '#0020C0'), ([(128, 202), (160, 172)], '#0020C0'),
    ([(81, 213), (127, 213), (162, 182)], '#0020C0'),
    ([(102, 224), (144, 224), (144, 220)], '#FF0000'),
    ([(52, 263), (135, 263)], 'black'),
    ([(113, 335), (131, 335), (138, 318)], '#FF0000'),
    ([(104, 348), (133, 348), (143, 341)], '#FF0000'),
    ([(92, 368), (137, 368)], NAVY),
    ([(86, 409), (137, 409)], NAVY),
    ([(98, 429), (134, 429), (182, 447)], '#B22222'),
    ([(58, 468), (190, 455)], 'black'),
    ([(58, 479), (137, 479)], '#555555'),
    ([(58, 489), (130, 489), (140, 497)], '#999999'),
    ([(58, 499), (130, 499), (140, 505)], '#D8D8D8'),
    ([(60, 508), (137, 508)], '#66B8FF'), ([(60, 512), (137, 512)], '#66B8FF'),
    ([(66, 527), (125, 527), (172, 465)], ORANGE),
    ([(56, 555), (185, 555)], '#8CCBFF'), ([(56, 558), (185, 558)], '#8CCBFF'),
    ([(50, 569), (193, 569)], '#999999'),
    ([(40, 581), (137, 581)], '#333333'),
    ([(73, 593), (150, 593)], '#333333'),
    ([(27, 605), (218, 605), (220, 598)], '#FFB000'),
    ([(138, 622), (148, 622), (158, 612)], 'black'),
]
for pts, c in connectors:
    fline(pts, c, lw=1.0)

fig.savefig('out.png', dpi=100, facecolor='white')
